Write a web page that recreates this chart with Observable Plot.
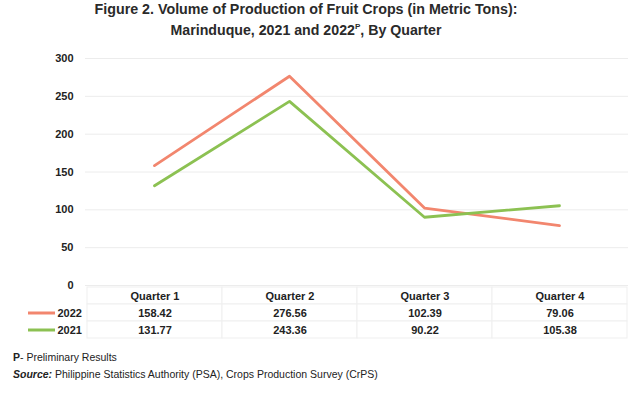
<!DOCTYPE html>
<html><head><meta charset="utf-8">
<script src="https://cdn.jsdelivr.net/npm/d3@7"></script>
<script src="https://cdn.jsdelivr.net/npm/@observablehq/plot@0.6"></script>
<style>
body{margin:0;background:#fff;font-family:"Liberation Sans",Arial,sans-serif;}
#wrap{width:630px;height:401px;position:relative;overflow:hidden;}
#title{display:block}
.foot{font-size:10.5px;color:#222;padding-left:13px;line-height:17px;margin-top:10px}
</style></head><body><div id="wrap">
<svg id="title" width="630" height="44">
<text x="306" y="14" text-anchor="middle" font-weight="bold" font-size="14" textLength="423" lengthAdjust="spacingAndGlyphs" fill="#2a2a2a" font-family="Liberation Sans, Arial, sans-serif">Figure 2. Volume of Production of Fruit Crops (in Metric Tons):</text>
<text x="306" y="35" text-anchor="middle" font-weight="bold" font-size="14" textLength="271" lengthAdjust="spacingAndGlyphs" fill="#2a2a2a" font-family="Liberation Sans, Arial, sans-serif">Marinduque, 2021 and 2022<tspan font-size="8" dy="-6">P</tspan><tspan dy="6">, By Quarter</tspan></text>
</svg>
<div id="chart"></div>
<div id="table"></div>
<div class="foot"><b>P</b>- Preliminary Results<br><b><i>Source:</i></b> Philippine Statistics Authority (PSA), Crops Production Survey (CrPS)</div>
</div>
<script>
const quarters = ["Quarter 1", "Quarter 2", "Quarter 3", "Quarter 4"];
const years = ["2022", "2021"];
const values2022 = [158.42, 276.56, 102.39, 79.06];
const values2021 = [131.77, 243.36, 90.22, 105.38];
const yTicks = [0, 50, 100, 150, 200, 250, 300];
const seriesColors = ["#f2866e", "#8cc152"];

const series = {"2022": values2022, "2021": values2021};
const rows = years.flatMap(y => quarters.map((q, i) => ({quarter: q, year: y, value: series[y][i]})));

const baseStyle = {fontSize: "11px", fontWeight: "bold", fontFamily: "Liberation Sans, Arial, sans-serif", color: "#222", background: "transparent", overflow: "visible"};

const chart = Plot.plot({
  width: 630, height: 242,
  marginTop: 14, marginBottom: 1, marginLeft: 85, marginRight: 2,
  style: baseStyle,
  x: {type: "point", domain: quarters, padding: 0.5, axis: null},
  y: {domain: [0, 300], ticks: yTicks, tickSize: 0, tickPadding: 12, label: null},
  color: {domain: years, range: seriesColors},
  marks: [
    Plot.ruleY(yTicks, {stroke: "#ececec", strokeWidth: 1}),
    Plot.line(rows, {x: "quarter", y: "value", z: "year", stroke: "year", strokeWidth: 2.8})
  ]
});
document.getElementById("chart").append(chart);

const cells = ["header", ...years].flatMap(r => quarters.map(q => ({quarter: q, row: r})));
const table = Plot.plot({
  width: 630, height: 53,
  marginTop: 0, marginBottom: 0, marginLeft: 85, marginRight: 2,
  style: baseStyle,
  x: {type: "band", domain: quarters, padding: 0, axis: null},
  y: {type: "band", domain: ["header", ...years], padding: 0, axis: null},
  color: {domain: years, range: seriesColors},
  marks: [
    Plot.cell(cells, {x: "quarter", y: "row", fill: "white", stroke: "#efefef"}),
    Plot.text(quarters, {x: d => d, y: () => "header", text: d => d, fill: "#222"}),
    Plot.text(rows, {x: "quarter", y: "year", text: d => d.value.toFixed(2), fill: "#222"}),
    Plot.ruleY(years, {y: d => d, stroke: d => d, strokeWidth: 3, insetLeft: -57, insetRight: 573}),
    Plot.text(years, {y: d => d, text: d => d, frameAnchor: "left", dx: -28, textAnchor: "start", fill: "#222"})
  ]
});
document.getElementById("table").append(table);
</script>
</body></html>
